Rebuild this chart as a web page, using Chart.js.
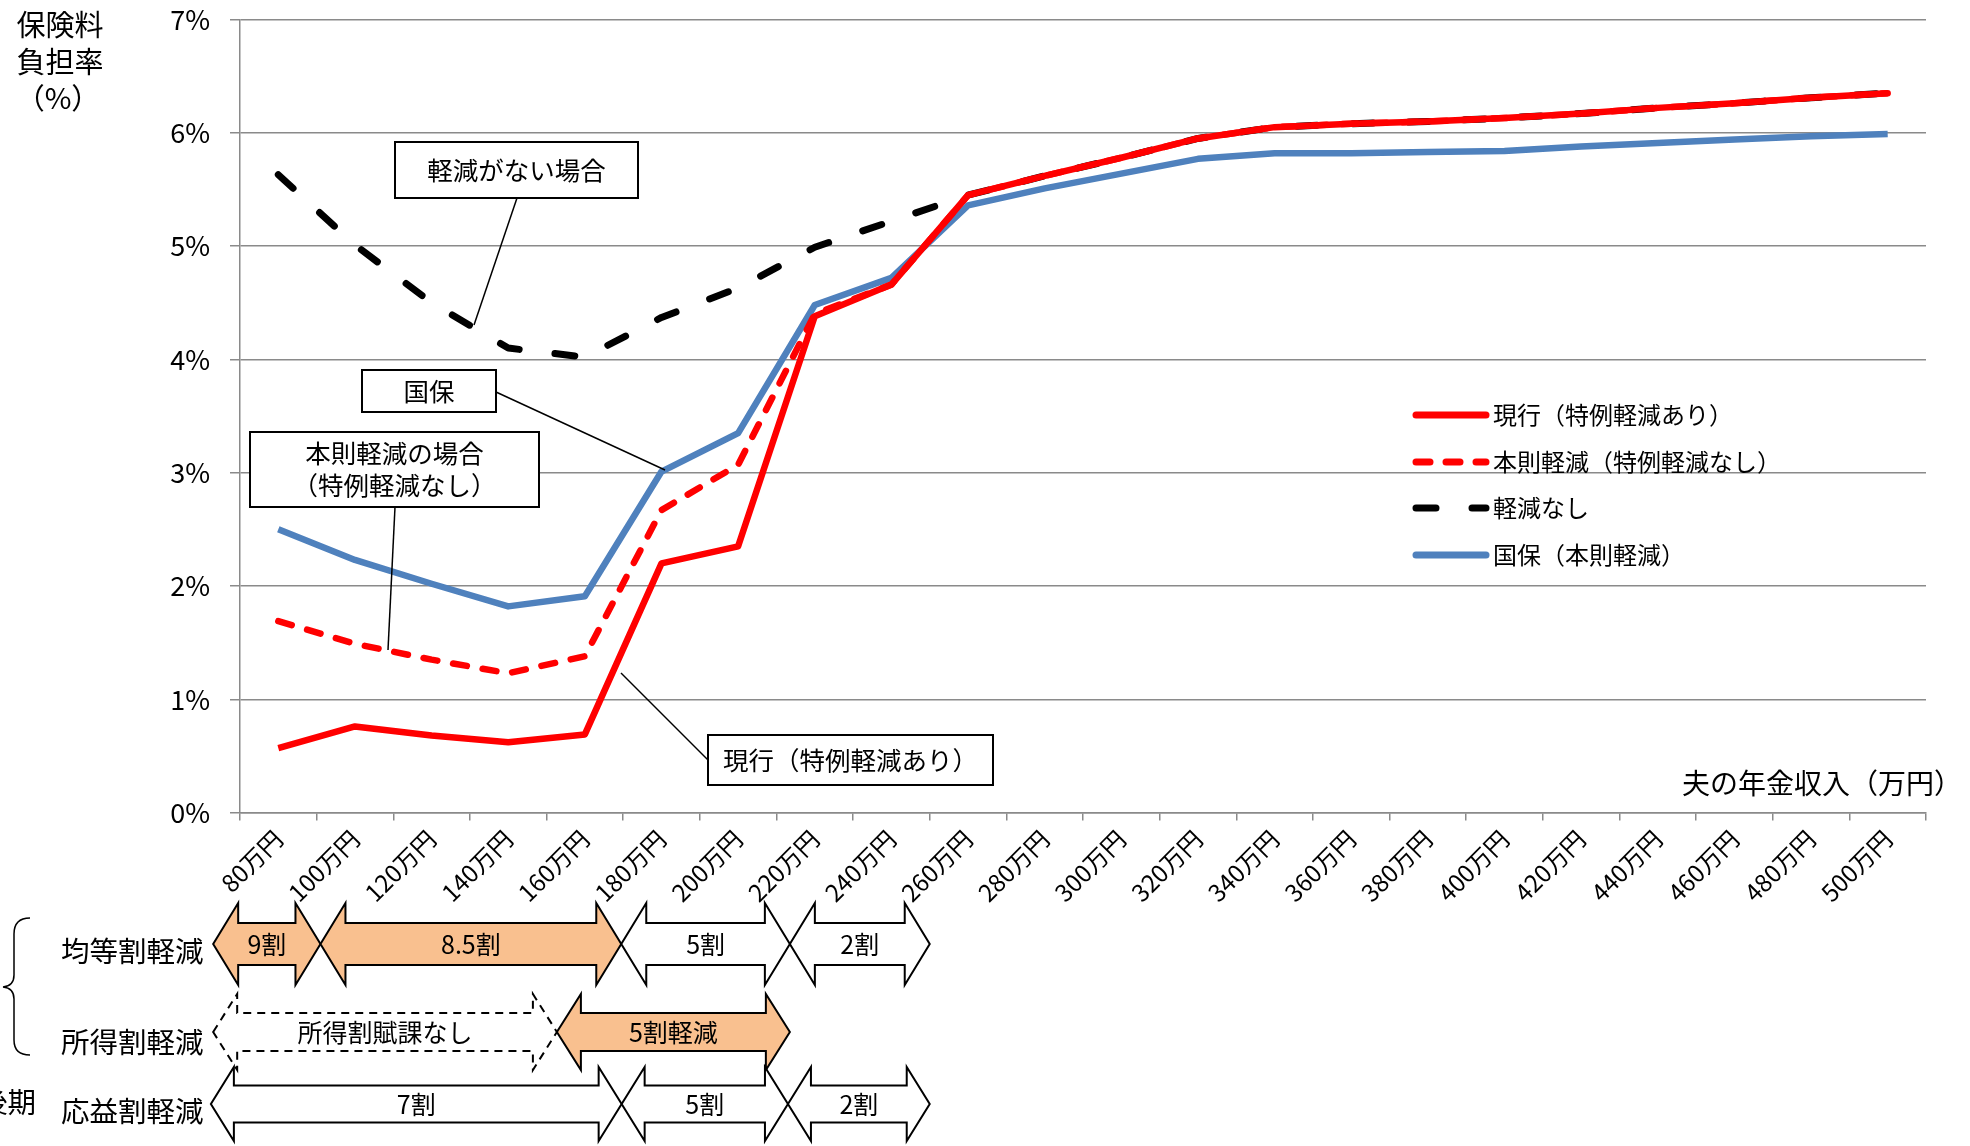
<!DOCTYPE html>
<html>
<head>
<meta charset="utf-8">
<script src="https://cdn.jsdelivr.net/npm/chart.js@4.4.1/dist/chart.umd.min.js"></script>
<style>
  html, body { margin: 0; padding: 0; background: #fff; }
  #wrap { width: 1970px; height: 1146px; }
</style>
</head>
<body>
<div id="wrap"><canvas id="chart" width="1970" height="1146"></canvas></div>
<script>
// --- Data ---
const incomes = [80, 100, 120, 140, 160, 180, 200, 220, 240, 260, 280, 300, 320, 340, 360, 380, 400, 420, 440, 460, 480, 500];
const xLabels = incomes.map(v => v + '万円');
const genkou      = [0.57, 0.76, 0.68, 0.62, 0.69, 2.20, 2.35, 4.38, 4.66, 5.45, 5.62, 5.78, 5.95, 6.05, 6.08, 6.10, 6.13, 6.17, 6.22, 6.26, 6.31, 6.35];
const honsoku     = [1.69, 1.49, 1.35, 1.23, 1.38, 2.67, 3.07, 4.40, 4.66, 5.45, 5.62, 5.78, 5.95, 6.05, 6.08, 6.10, 6.13, 6.17, 6.22, 6.26, 6.31, 6.35];
const keigenNashi = [5.63, 5.01, 4.50, 4.10, 4.02, 4.37, 4.63, 4.99, 5.22, 5.45, 5.62, 5.78, 5.95, 6.05, 6.08, 6.10, 6.13, 6.17, 6.22, 6.26, 6.31, 6.35];
const kokuho      = [2.50, 2.23, 2.02, 1.82, 1.91, 3.01, 3.35, 4.48, 4.72, 5.36, 5.51, 5.64, 5.77, 5.82, 5.82, 5.83, 5.84, 5.88, 5.91, 5.94, 5.97, 5.99];
const seriesNames = ['現行（特例軽減あり）', '本則軽減（特例軽減なし）', '軽減なし', '国保（本則軽減）'];

// reduction bands under the axis (income range, label)
const kintouArrows  = [[63, 91, '9割', 'fill'], [91, 169.5, '8.5割', 'fill'], [169.5, 213.5, '5割', 'plain'], [213.5, 250, '2割', 'plain']];
const shotokuArrows = [[63, 152.7, '所得割賦課なし', 'dash'], [152.7, 213.5, '5割軽減', 'fill']];
const ouekiArrows   = [[62.4, 169.6, '7割', 'plain'], [169.6, 213, '5割', 'plain'], [213, 250, '2割', 'plain']];

const FONT = '"Noto Sans CJK JP", "Noto Sans", sans-serif';
const ORANGE = '#F9C08F';
const GRID = '#8A8A8A';

function arrowPath(ctx, x0, x1, cy, head, H, S) {
  ctx.beginPath();
  ctx.moveTo(x0, cy);
  ctx.lineTo(x0 + head, cy - H);
  ctx.lineTo(x0 + head, cy - S);
  ctx.lineTo(x1 - head, cy - S);
  ctx.lineTo(x1 - head, cy - H);
  ctx.lineTo(x1, cy);
  ctx.lineTo(x1 - head, cy + H);
  ctx.lineTo(x1 - head, cy + S);
  ctx.lineTo(x0 + head, cy + S);
  ctx.lineTo(x0 + head, cy + H);
  ctx.closePath();
}

// --- Annotations, legend, titles ---
const annotPlugin = {
  id: 'annot',
  afterDraw(chart) {
    const ctx = chart.ctx;
    const xs = chart.scales.x;
    const px = v => xs.getPixelForValue((v - incomes[0]) / 20);
    ctx.save();
    ctx.fillStyle = '#000';
    ctx.textBaseline = 'middle';

    // y axis title
    ctx.font = '29px ' + FONT;
    ctx.textAlign = 'center';
    ctx.fillText('保険料', 60, 25);
    ctx.fillText('負担率', 60, 62);
    ctx.fillText('（%）', 58, 98);

    // x axis title
    ctx.font = '28px ' + FONT;
    ctx.textAlign = 'right';
    ctx.fillText('夫の年金収入（万円）', 1962, 783);

    // legend
    const lx = 1416, ly = [415, 462, 508, 555];
    chart.data.datasets.forEach((ds, i) => {
      ctx.save();
      ctx.strokeStyle = ds.borderColor;
      ctx.lineWidth = 7;
      ctx.lineCap = 'round';
      ctx.setLineDash(ds.borderDash || []);
      ctx.beginPath();
      ctx.moveTo(lx, ly[i]);
      ctx.lineTo(lx + 70, ly[i]);
      ctx.stroke();
      ctx.restore();
      ctx.font = '24px ' + FONT;
      ctx.textAlign = 'left';
      ctx.fillText(ds.label, lx + 77, ly[i]);
    });

    // callouts
    const callouts = [
      { text: ['軽減がない場合'], box: [395, 142, 638, 198], from: [517, 198], to: [474, 325] },
      { text: ['国保'], box: [362, 370, 496, 412], from: [496, 392], to: [665, 470] },
      { text: ['本則軽減の場合', '（特例軽減なし）'], box: [250, 432, 539, 507], from: [395, 507], to: [388, 650] },
      { text: ['現行（特例軽減あり）'], box: [708, 735, 993, 785], from: [708, 760], to: [621, 673] }
    ];
    callouts.forEach(c => {
      ctx.strokeStyle = '#000';
      ctx.lineWidth = 1.5;
      ctx.beginPath();
      ctx.moveTo(c.from[0], c.from[1]);
      ctx.lineTo(c.to[0], c.to[1]);
      ctx.stroke();
      const [x0, y0, x1, y1] = c.box;
      ctx.fillStyle = '#fff';
      ctx.fillRect(x0, y0, x1 - x0, y1 - y0);
      ctx.lineWidth = 2;
      ctx.strokeRect(x0, y0, x1 - x0, y1 - y0);
      ctx.fillStyle = '#000';
      ctx.font = '25.5px ' + FONT;
      ctx.textAlign = 'center';
      const cy = (y0 + y1) / 2, lh = 32;
      c.text.forEach((t, k) => {
        ctx.fillText(t, (x0 + x1) / 2, cy + (k - (c.text.length - 1) / 2) * lh);
      });
    });

    // row labels and brace
    ctx.font = '28.5px ' + FONT;
    ctx.textAlign = 'left';
    ctx.fillText('均等割軽減', 61, 951);
    ctx.fillText('所得割軽減', 61, 1042);
    ctx.fillText('応益割軽減', 61, 1111);
    ctx.textAlign = 'right';
    ctx.fillText('後期', 36, 1102);
    ctx.font = '22px ' + FONT;
    ctx.fillText('）', 12, 1136);

    ctx.strokeStyle = '#000';
    ctx.lineWidth = 1.5;
    ctx.beginPath();
    ctx.moveTo(30, 918);
    ctx.quadraticCurveTo(14, 918, 14, 934);
    ctx.lineTo(14, 975);
    ctx.quadraticCurveTo(14, 986, 3, 987);
    ctx.quadraticCurveTo(14, 988, 14, 999);
    ctx.lineTo(14, 1040);
    ctx.quadraticCurveTo(14, 1055, 30, 1055);
    ctx.stroke();

    // arrows
    const rows = [
      { list: kintouArrows, cy: 944, H: 41, S: 21, head: 25 },
      { list: shotokuArrows, cy: 1032, H: 38, S: 19, head: 24 },
      { list: ouekiArrows, cy: 1104, H: 37, S: 18.5, head: 23 }
    ];
    rows.forEach(r => {
      r.list.forEach(([a, b, label, kind]) => {
        const x0 = px(a), x1 = px(b);
        arrowPath(ctx, x0, x1, r.cy, r.head, r.H, r.S);
        ctx.fillStyle = kind === 'fill' ? ORANGE : '#fff';
        ctx.fill();
        ctx.strokeStyle = '#000';
        ctx.lineWidth = 2;
        ctx.setLineDash(kind === 'dash' ? [8, 6] : []);
        ctx.stroke();
        ctx.setLineDash([]);
        ctx.fillStyle = '#000';
        ctx.font = '25px ' + FONT;
        ctx.textAlign = 'center';
        ctx.fillText(label, (x0 + x1) / 2, r.cy);
      });
    });
    ctx.restore();
  }
};

// --- Chart ---
new Chart(document.getElementById('chart'), {
  type: 'line',
  data: {
    labels: xLabels,
    datasets: [
      { label: seriesNames[0], data: genkou, borderColor: '#FF0000', borderWidth: 6.5 },
      { label: seriesNames[1], data: honsoku, borderColor: '#FF0000', borderWidth: 6.5, borderDash: [14, 16], borderCapStyle: 'round' },
      { label: seriesNames[2], data: keigenNashi, borderColor: '#000000', borderWidth: 7, borderDash: [20, 36], borderCapStyle: 'round' },
      { label: seriesNames[3], data: kokuho, borderColor: '#4F81BD', borderWidth: 6.5 }
    ]
  },
  options: {
    responsive: false,
    animation: false,
    layout: { padding: { left: 0, right: 44, top: 19.5, bottom: 0 } },
    elements: { point: { radius: 0 }, line: { tension: 0, borderJoinStyle: 'round' } },
    plugins: { legend: { display: false }, tooltip: { enabled: false } },
    scales: {
      x: {
        offset: true,
        grid: { offset: true, drawOnChartArea: false, color: GRID, lineWidth: 1.5, tickLength: 8 },
        border: { color: GRID, width: 1.5 },
        ticks: { autoSkip: false, maxRotation: 45, minRotation: 45, padding: 4, color: '#000', font: { family: FONT, size: 24 } },
        afterFit(scale) { scale.height = 333.4; }
      },
      y: {
        min: 0, max: 7,
        grid: { color: GRID, lineWidth: 1.5, tickLength: 10 },
        border: { color: GRID, width: 1.5 },
        ticks: { stepSize: 1, padding: 20, color: '#000', font: { family: FONT, size: 27 }, callback: v => v + '%' },
        afterFit(scale) { scale.width = 240; scale.paddingTop = 0; scale.paddingBottom = 0; }
      }
    }
  },
  plugins: [annotPlugin]
});
</script>
</body>
</html>
